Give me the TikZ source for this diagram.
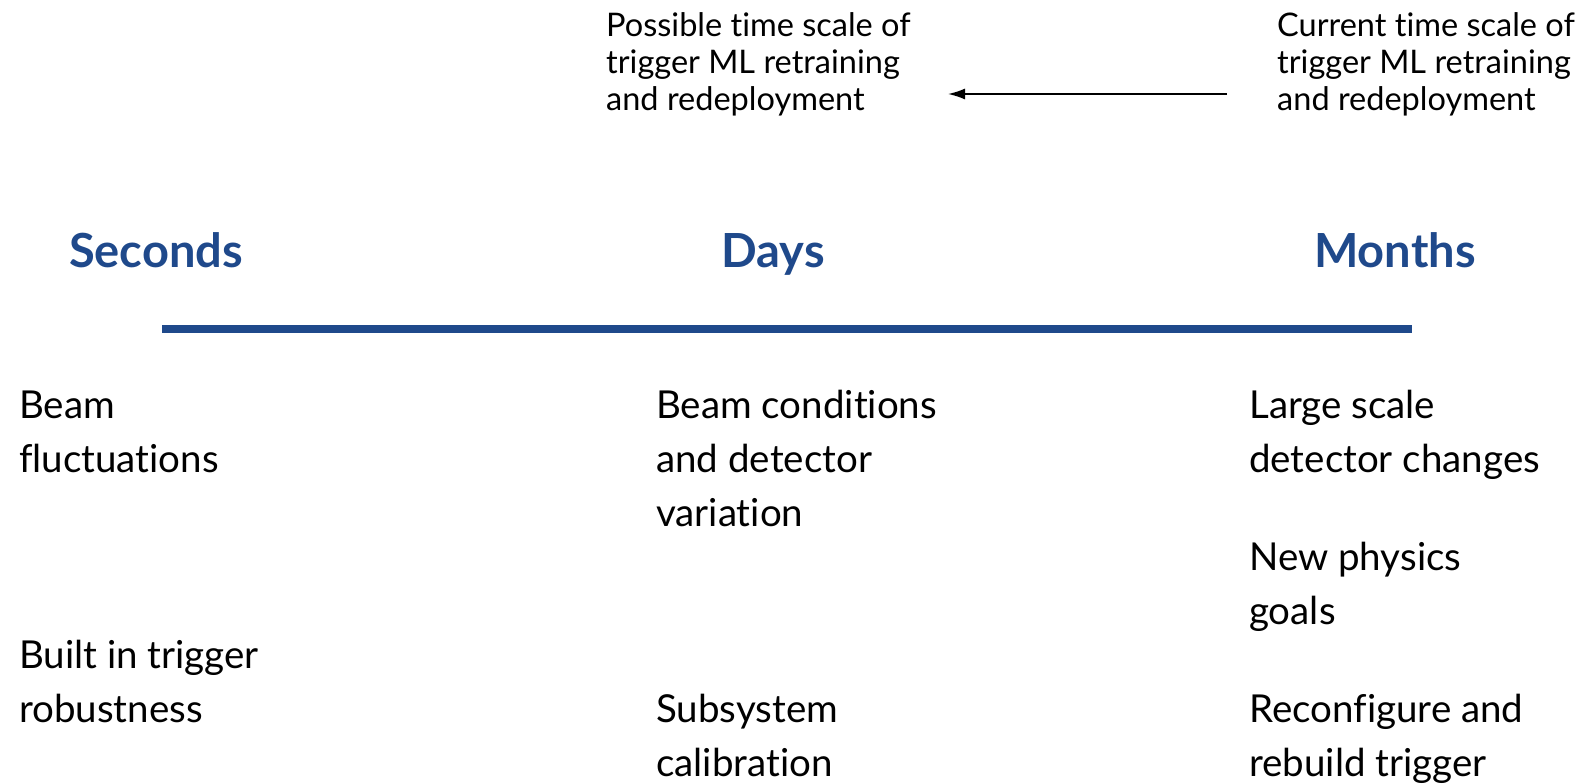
\documentclass[tikz,border=0pt]{standalone}
\usepackage{fontspec}
\setmainfont{Lato}[Ligatures=NoCommon]
\usetikzlibrary{arrows.meta}
\definecolor{scaleblue}{RGB}{31,73,139}
\tikzset{
  note/.style={anchor=base west, inner sep=0pt, font=\fontsize{32.5}{37}\selectfont},
  item/.style={anchor=base west, inner sep=0pt, font=\fontsize{38.5}{54}\selectfont},
  header/.style={anchor=base, inner sep=0pt, text=scaleblue, font=\fontsize{47}{50}\selectfont\bfseries},
}
\newcommand{\lines}[1]{\parbox[t]{12cm}{\raggedright #1}}
\begin{document}
\begin{tikzpicture}[x=1pt,y=-1pt]
\useasboundingbox (0,0) rectangle (1590,784);

% retraining time scales
\node[note] (possible) at (606,37) {\lines{Possible time scale of\\trigger ML retraining\\and redeployment}};
\node[note] (current) at (1277,37) {\lines{Current time scale of\\trigger ML retraining\\and redeployment}};
\coordinate (arrfrom) at (1227,94);
\coordinate (arrto) at (948,94);
\draw[line width=1.6pt, -{Latex[length=17pt,width=11pt]}] (arrfrom) -- (arrto);

% time axis
\node[header] (sec) at (156,267) {Seconds};
\node[header] (days) at (773,267) {Days};
\node[header] (months) at (1395,267) {Months};
\coordinate (axl) at (162,329);
\coordinate (axr) at (1412,329);
\draw[scaleblue, line width=8pt] (axl) -- (axr);

% effects at each time scale
\node[item] (beam) at (19,418) {\lines{Beam\\fluctuations}};
\node[item] (robust) at (19,668) {\lines{Built in trigger\\robustness}};
\node[item] (cond) at (656,418) {\lines{Beam conditions\\and detector\\variation}};
\node[item] (calib) at (656,722) {\lines{Subsystem\\calibration}};
\node[item] (large) at (1249,418) {\lines{Large scale\\detector changes}};
\node[item] (physics) at (1249,570) {\lines{New physics\\goals}};
\node[item] (rebuild) at (1249,722) {\lines{Reconfigure and\\rebuild trigger}};
\end{tikzpicture}
\end{document}
